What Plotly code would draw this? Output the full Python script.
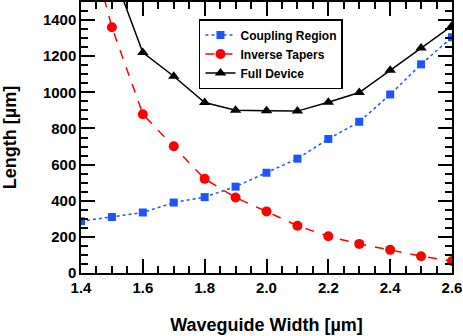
import plotly.graph_objects as go

# waveguide widths (um)
width = [1.4, 1.5, 1.6, 1.7, 1.8, 1.9, 2.0, 2.1, 2.2, 2.3, 2.4, 2.5, 2.6]

# lengths (um)
coupling = [287, 310, 335, 390, 420, 478, 555, 633, 742, 837, 988, 1155, 1305]
tapers = [2000, 1360, 879, 702, 521, 418, 341, 262, 203, 161, 128, 93, 66]
full_dev = [2285, 1680, 1220, 1089, 944, 901, 898, 896, 945, 999, 1122, 1245, 1368]

font_fam = "Liberation Sans, Arial, sans-serif"

fig = go.Figure()
fig.add_trace(go.Scatter(
    x=width, y=coupling, name="Coupling Region", mode="lines+markers",
    line=dict(color="#1a55ff", width=1.5, dash="dot"),
    marker=dict(symbol="square", size=8, color="#1a55ff")
))
fig.add_trace(go.Scatter(
    x=width, y=tapers, name="Inverse Tapers", mode="lines+markers",
    line=dict(color="#ff0000", width=1.5, dash="dash"),
    marker=dict(symbol="circle", size=10, color="#ff0000")
))
fig.add_trace(go.Scatter(
    x=width, y=full_dev, name="Full Device", mode="lines+markers",
    line=dict(color="black", width=1.5),
    marker=dict(symbol="triangle-up", size=10, color="black")
))

axis_common = dict(
    showgrid=False, zeroline=False, automargin=False,
    showline=True, linecolor="black", linewidth=1.5, mirror="ticks",
    ticks="inside", ticklen=14, tickwidth=1.5, tickcolor="black",
    tickfont=dict(family=font_fam, size=15, color="black", weight="bold"),
)

fig.update_xaxes(
    range=[1.4, 2.6], dtick=0.2, tick0=1.4, tickformat=".1f",
    minor=dict(dtick=0.05, ticks="inside", ticklen=7, tickwidth=1.5, tickcolor="black"),
    title=dict(text="Waveguide Width [µm]", standoff=24,
               font=dict(family=font_fam, size=18, color="black", weight="bold")),
    **axis_common
)
fig.update_yaxes(
    range=[0, 1500], dtick=200, tick0=0,
    minor=dict(dtick=50, ticks="inside", ticklen=7, tickwidth=1.5, tickcolor="black"),
    title=dict(text="Length [µm]", standoff=27,
               font=dict(family=font_fam, size=18, color="black", weight="bold")),
    **axis_common
)

fig.update_layout(
    width=463, height=336,
    margin=dict(l=81, r=11, t=2, b=63),
    plot_bgcolor="white", paper_bgcolor="white",
    legend=dict(
        x=0.318, y=0.937, xanchor="left", yanchor="top",
        bgcolor="white", bordercolor="black", borderwidth=1.5,
        font=dict(family=font_fam, size=12, color="black", weight="bold"),
        tracegroupgap=0,
    ),
)

# drop the browser's default body margin so the figure sits at the page corner
fig.write_html("out.html", config={"displayModeBar": False},
               post_script="document.body.style.margin='0';")
